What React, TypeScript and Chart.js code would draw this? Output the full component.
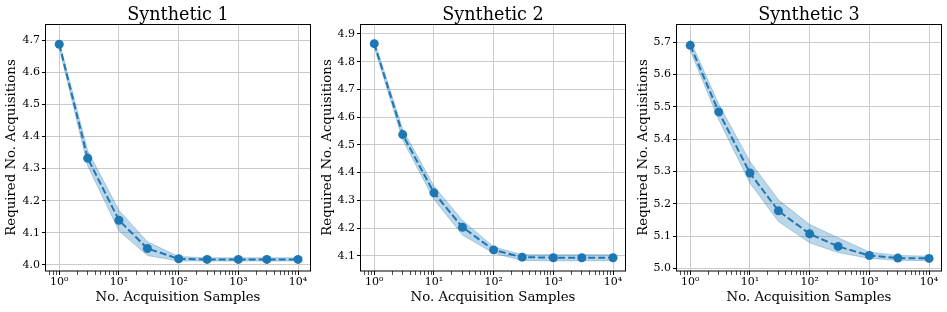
import React, { useEffect, useRef } from 'react';
import { Chart, registerables } from 'chart.js';

Chart.register(...registerables);

// ---- data ----
const SAMPLES = [1, 3, 10, 30, 100, 300, 1000, 3000, 10000];
const TITLES = ['Synthetic 1', 'Synthetic 2', 'Synthetic 3'];
const X_LABEL = 'No. Acquisition Samples';
const Y_LABEL = 'Required No. Acquisitions';

const S1_MEAN = [4.687, 4.332, 4.139, 4.051, 4.019, 4.017, 4.017, 4.017, 4.017];
const S1_UPPER = [4.696, 4.355, 4.170, 4.072, 4.026, 4.022, 4.022, 4.022, 4.022];
const S1_LOWER = [4.676, 4.308, 4.106, 4.029, 4.012, 4.012, 4.012, 4.012, 4.012];

const S2_MEAN = [4.865, 4.537, 4.327, 4.203, 4.121, 4.095, 4.093, 4.093, 4.093];
const S2_UPPER = [4.877, 4.556, 4.351, 4.228, 4.132, 4.104, 4.104, 4.104, 4.104];
const S2_LOWER = [4.853, 4.518, 4.303, 4.175, 4.109, 4.083, 4.082, 4.082, 4.082];

const S3_MEAN = [5.690, 5.484, 5.295, 5.178, 5.107, 5.068, 5.040, 5.032, 5.031];
const S3_UPPER = [5.706, 5.508, 5.331, 5.212, 5.136, 5.095, 5.051, 5.040, 5.038];
const S3_LOWER = [5.674, 5.460, 5.264, 5.145, 5.079, 5.049, 5.031, 5.025, 5.024];

const X_MAJOR = [1, 10, 100, 1000, 10000];
const X_MAJOR_LABELS = ['10⁰', '10¹', '10²', '10³', '10⁴'];
const X_MINOR_MULT = [2, 3, 4, 5, 6, 7, 8, 9];

const Y1_TICKS = [4.0, 4.1, 4.2, 4.3, 4.4, 4.5, 4.6, 4.7];
const Y2_TICKS = [4.1, 4.2, 4.3, 4.4, 4.5, 4.6, 4.7, 4.8, 4.9];
const Y3_TICKS = [5.0, 5.1, 5.2, 5.3, 5.4, 5.5, 5.6, 5.7];

const Y_MIN = [3.981, 4.045, 4.992];
const Y_MAX = [4.750, 4.936, 5.756];

const MEANS = [S1_MEAN, S2_MEAN, S3_MEAN];
const UPPERS = [S1_UPPER, S2_UPPER, S3_UPPER];
const LOWERS = [S1_LOWER, S2_LOWER, S3_LOWER];
const Y_TICKS = [Y1_TICKS, Y2_TICKS, Y3_TICKS];

// ---- layout ----
const H = 312;
const CANVAS_LEFT = [0, 315, 632];
const CANVAS_W = [315, 317, 315];
const PLOT_LEFT = [46, 361, 677];
const PLOT_RIGHT = [310, 625, 941];
const PLOT_TOP = 24;
const PLOT_BOTTOM = 271;
const Y_TITLE_PAD = [4, 5, 4];

const FONT = '"DejaVu Serif", serif';
const BLUE = '#1f77b4';
const BAND = 'rgba(31,119,180,0.3)';
const GRID = '#cbcbcb';

const minorTicks: number[] = [];
[0.1, 1, 10, 100, 1000].forEach((p) => X_MINOR_MULT.forEach((m) => minorTicks.push(Math.round(m * p * 10) / 10)));

function Panel({ i }: { i: number }) {
  const ref = useRef<HTMLCanvasElement>(null);
  useEffect(() => {
    const xMin = Math.pow(10, -0.2);
    const xMax = Math.pow(10, 4.2);
    const xTickValues = [...X_MAJOR, ...minorTicks.filter((v) => v > xMin && v < xMax)].sort((a, b) => a - b);
    const toPts = (arr: number[]) => SAMPLES.map((x, k) => ({ x, y: arr[k] }));

    const framePlugin = {
      id: 'frameAndTitle',
      afterDraw(chart: any) {
        const { ctx, chartArea } = chart;
        const { left, right, top, bottom } = chartArea;
        ctx.save();
        ctx.strokeStyle = '#000';
        ctx.lineWidth = 1;
        ctx.strokeRect(Math.round(left) - 0.5, Math.round(top) + 0.5, Math.round(right - left) + 1, Math.round(bottom - top) - 0.5);
        ctx.fillStyle = '#000';
        ctx.font = `17.6px ${FONT}`;
        ctx.textAlign = 'center';
        ctx.textBaseline = 'alphabetic';
        ctx.fillText(TITLES[i], (left + right) / 2, 20);
        ctx.restore();
      },
    };

    const chart = new Chart(ref.current!, {
      type: 'line',
      data: {
        datasets: [
          {
            data: toPts(UPPERS[i]),
            borderColor: BAND,
            borderWidth: 1,
            pointRadius: 0,
            fill: false,
          },
          {
            data: toPts(LOWERS[i]),
            borderColor: BAND,
            borderWidth: 1,
            pointRadius: 0,
            backgroundColor: BAND,
            fill: '-1',
          },
          {
            data: toPts(MEANS[i]),
            borderColor: BLUE,
            borderWidth: 2,
            borderDash: [7, 3],
            pointRadius: 4.5,
            pointBackgroundColor: BLUE,
            pointBorderWidth: 0,
            fill: false,
          },
        ],
      },
      options: {
        animation: false,
        responsive: false,
        devicePixelRatio: 1,
        layout: {
          padding: { top: PLOT_TOP, left: 0, bottom: 0, right: CANVAS_LEFT[i] + CANVAS_W[i] - PLOT_RIGHT[i] },
        },
        plugins: { legend: { display: false }, tooltip: { enabled: false }, title: { display: false } },
        scales: {
          x: {
            type: 'logarithmic',
            min: xMin,
            max: xMax,
            afterBuildTicks: (s: any) => {
              s.ticks = xTickValues.map((v) => ({ value: v, major: X_MAJOR.includes(v) }));
            },
            afterFit: (s: any) => {
              s.height = H - PLOT_BOTTOM;
            },
            border: { display: false },
            grid: {
              color: (c: any) => (X_MAJOR.includes(c.tick?.value) ? GRID : 'rgba(0,0,0,0)'),
              lineWidth: 1,
              tickColor: '#000',
              tickWidth: (c: any) => (X_MAJOR.includes(c.tick?.value) ? 1 : 0.7),
              tickLength: 4,
            },
            ticks: {
              autoSkip: false,
              maxRotation: 0,
              padding: 1,
              color: '#000',
              font: { family: FONT, size: 11 },
              callback: (v: any) => {
                const k = X_MAJOR.indexOf(Number(v));
                return k >= 0 ? X_MAJOR_LABELS[k] : '';
              },
            },
            title: {
              display: true,
              text: X_LABEL,
              color: '#000',
              font: { family: FONT, size: 13.3 },
              padding: { top: 0, bottom: 6.5 },
            },
          },
          y: {
            type: 'linear',
            min: Y_MIN[i],
            max: Y_MAX[i],
            afterBuildTicks: (s: any) => {
              s.ticks = Y_TICKS[i].map((v) => ({ value: v }));
            },
            afterFit: (s: any) => {
              s.width = PLOT_LEFT[i] - CANVAS_LEFT[i];
            },
            border: { display: false },
            grid: { color: GRID, lineWidth: 1, tickColor: '#000', tickLength: 4 },
            ticks: {
              padding: 2,
              color: '#000',
              font: { family: FONT, size: 11 },
              callback: (v: any) => Number(v).toFixed(1),
            },
            title: {
              display: true,
              text: Y_LABEL,
              color: '#000',
              font: { family: FONT, size: 13.3 },
              padding: { top: Y_TITLE_PAD[i], bottom: 0 },
            },
          },
        },
      },
      plugins: [framePlugin],
    } as any);
    return () => chart.destroy();
  }, [i]);
  return (
    <canvas
      ref={ref}
      width={CANVAS_W[i]}
      height={H}
      style={{ position: 'absolute', left: CANVAS_LEFT[i], top: 0, width: CANVAS_W[i], height: H }}
    />
  );
}

export default function App() {
  return (
    <div style={{ position: 'absolute', left: 0, top: 0, width: 947, height: H, background: '#fff' }}>
      {[0, 1, 2].map((i) => (
        <Panel key={i} i={i} />
      ))}
    </div>
  );
}
